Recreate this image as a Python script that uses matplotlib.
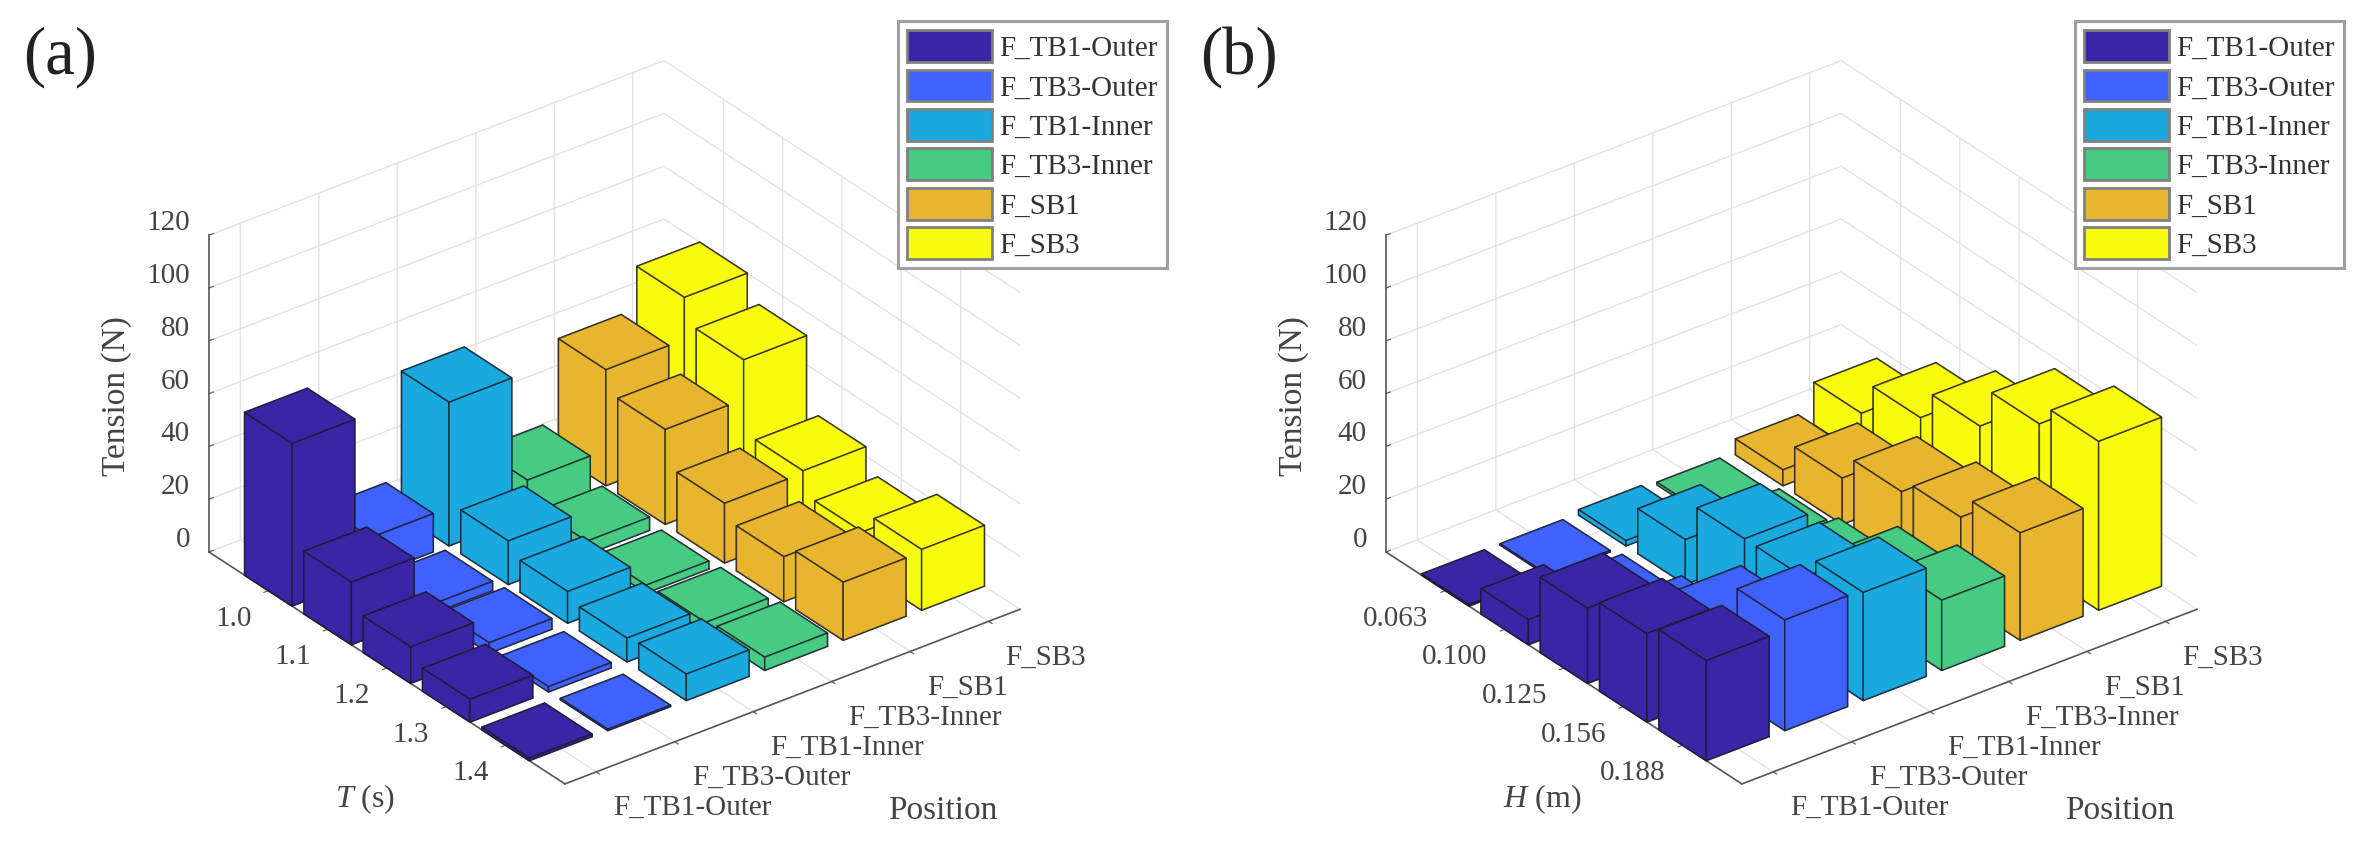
import matplotlib
matplotlib.use("Agg")
import matplotlib.pyplot as plt
from matplotlib.patches import Patch
from mpl_toolkits.mplot3d import proj3d

W, H = 2379, 849
plt.rcParams["font.family"] = ["Liberation Serif", "DejaVu Serif"]
plt.rcParams["mathtext.fontset"] = "custom"
plt.rcParams["mathtext.rm"] = "Liberation Serif"
plt.rcParams["mathtext.it"] = "Liberation Serif:italic"
plt.rcParams["xtick.color"] = "#555555"
plt.rcParams["ytick.color"] = "#555555"

positions = ["F_TB1-Outer", "F_TB3-Outer", "F_TB1-Inner", "F_TB3-Inner", "F_SB1", "F_SB3"]
colors = ["#3A25A5", "#3F62FF", "#19A9DE", "#47CB82", "#E8B52E", "#F9FB0E"]

T_labels = ["1.0", "1.1", "1.2", "1.3", "1.4"]
H_labels = ["0.063", "0.100", "0.125", "0.156", "0.188"]

# rows follow positions, columns follow T or H
tension_T = [
    [61.7, 23.7, 13.8, 8.6, 1.0],
    [14.5, 3.5, 4.0, 2.0, 0.5],
    [54.5, 16.5, 12.0, 9.0, 10.0],
    [13.5, 5.0, 3.0, 3.5, 5.0],
    [44.0, 36.0, 22.6, 17.0, 22.0],
    [60.0, 51.0, 23.5, 15.0, 23.0],
]
tension_H = [
    [0.5, 9.5, 28.5, 33.5, 38.0],
    [0.5, 2.0, 8.5, 27.0, 42.0],
    [2.0, 17.0, 32.0, 32.0, 41.0],
    [1.0, 4.0, 7.6, 19.0, 26.6],
    [6.0, 17.5, 27.0, 32.0, 40.8],
    [16.0, 29.0, 40.5, 56.0, 64.0],
]
z_ticks = [0, 20, 40, 60, 80, 100, 120]

TXT = "#444444"
FS = 21
XLIM = (-0.4, 5.4)
YLIM = (-1.0, 5.0)
ZLIM = (0, 120)


def to_pixels(ax, x, y, z):
    px, py, _ = proj3d.proj_transform(x, y, z, ax.get_proj())
    return ax.transData.transform((px, py))


def place(ax, left_px, right_px, base_y_px):
    """Scale and move the 3D axes so its floor corners land on the given pixels."""
    S = 1000.0
    ax.set_position([0, 0, S / W, S / H])
    ax.apply_aspect()
    a = to_pixels(ax, XLIM[0], YLIM[1], 0)
    b = to_pixels(ax, XLIM[1], YLIM[0], 0)
    s = (right_px - left_px) / (b[0] - a[0])
    size = S * s
    x0 = left_px - a[0] * s
    y0 = (H - base_y_px) - a[1] * s
    ax.set_position([x0 / W, y0 / H, size / W, size / H])
    ax.apply_aspect()


def tick_text(ax, x, y, z, s, dx, dy, ha):
    # label a 3D point, dx/dy in pixels (dy downwards)
    p = to_pixels(ax, x, y, z)
    fig.text((p[0] + dx) / W, (p[1] - dy) / H, s, ha=ha, va="center", fontsize=FS, color=TXT)


def panel(left_px, values, cat_labels, xlabel, tag, tag_px):
    ax = fig.add_subplot(projection="3d", proj_type="ortho", computed_zorder=False)
    ax.set_facecolor("none")
    ax.view_init(elev=30, azim=-127.5)
    ax.set_box_aspect((574, 585, 366))
    ax.set_xlim(*XLIM, view_margin=0)
    ax.set_ylim(*YLIM, view_margin=0)
    ax.set_zlim(*ZLIM, view_margin=0)
    place(ax, left_px, left_px + 811, 552)

    n = len(cat_labels)
    ax.set_xticks(range(len(positions)))
    ax.set_yticks(range(n))
    ax.set_zticks(z_ticks)
    ax.set_xticklabels([])
    ax.set_yticklabels([])
    ax.set_zticklabels([])
    for axis in (ax.xaxis, ax.yaxis, ax.zaxis):
        axis.pane.fill = False
        axis.pane.set_edgecolor("none")
        axis.line.set_color("#555555")
        axis.line.set_linewidth(1.2)
        axis._axinfo["grid"].update(color="#e3e3e3", linewidth=1.0)
        axis._axinfo["tick"].update(inward_factor=0.12, outward_factor=0.0)
        axis.set_tick_params(color="#555555")
    ax.zaxis._axinfo["tick"].update(inward_factor=0.0, outward_factor=0.12)

    # back to front so tall bars hide what is behind them
    order = 1
    for j in range(n):
        y = n - 1 - j
        for i in range(len(positions) - 1, -1, -1):
            h = values[i][j]
            ax.bar3d(i - 0.4, y - 0.4, 0, 0.8, 0.8, h, color=colors[i], shade=False,
                     edgecolor=(0.1, 0.1, 0.15, 0.75), linewidth=1.1, zorder=order)
            order += 1

    for i, lab in enumerate(positions):
        tick_text(ax, i, YLIM[0], 0, lab, 17, 36, "left")
    for j, lab in enumerate(cat_labels):
        tick_text(ax, XLIM[0], n - 1 - j, 0, lab, -17, 28, "right")
    for z in z_ticks:
        tick_text(ax, XLIM[0], YLIM[1], z, str(z), -19, -12, "right")

    dx = left_px - 209
    fig.text((117 + dx) / W, 1 - 396 / H, "Tension (N)", rotation=90, ha="center", va="center",
             fontsize=24, color=TXT)
    fig.text((365 + dx) / W, 1 - 799 / H, xlabel, ha="center", va="center", fontsize=23, color=TXT)
    fig.text((943 + dx) / W, 1 - 811 / H, "Position", ha="center", va="center", fontsize=24, color=TXT)
    fig.text(tag_px / W, 1 - 57 / H, tag, ha="center", va="center", fontsize=48, color="#222222")

    handles = [Patch(facecolor=c, edgecolor="#808080", linewidth=2.0, label=p)
               for c, p in zip(colors, positions)]
    leg = fig.legend(handles=handles, loc="upper left", bbox_to_anchor=((898 + dx) / W, 1 - 21 / H),
                     bbox_transform=fig.transFigure, fontsize=21, frameon=True, fancybox=False,
                     framealpha=1, edgecolor="#a0a0a0", handlelength=2.9, handleheight=1.3,
                     labelspacing=0.26, handletextpad=0.25, borderpad=0.32, borderaxespad=0)
    leg.get_frame().set_linewidth(2.2)
    for t in leg.get_texts():
        t.set_color("#333333")
    return ax


fig = plt.figure(figsize=(W / 100, H / 100), dpi=100)
panel(209, tension_T, T_labels, "$T$ (s)", "(a)", 60)
panel(1386, tension_H, H_labels, "$H$ (m)", "(b)", 1239)
fig.savefig("out.png", dpi=100)
